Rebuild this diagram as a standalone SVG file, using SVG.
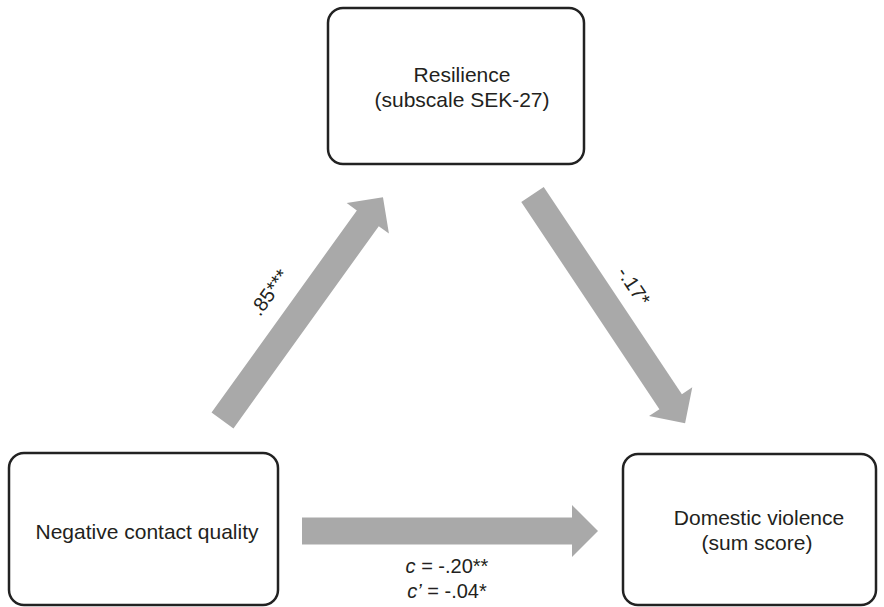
<svg xmlns="http://www.w3.org/2000/svg" width="884" height="607" viewBox="0 0 884 607">
<style>
.box{fill:#fff;stroke:#222;stroke-width:2.5}
.nt{font-family:"Liberation Sans",Arial,sans-serif;font-size:21px;fill:#231f20;text-anchor:middle}
.lb{font-family:"Liberation Sans",Arial,sans-serif;font-size:20px;fill:#231f20;text-anchor:middle}
.arr{fill:#a9a9a9}
</style>
<rect width="884" height="607" fill="#fff"/>
<g id="connectors">
<polygon class="arr" transform="translate(222.5,420.5) rotate(-54.3)" points="0,-13.5 249,-13.5 249,-26 275,0 249,26 249,13.5 0,13.5"/>
<polygon class="arr" transform="translate(532.5,194.5) rotate(56.3)" points="0,-13.5 249,-13.5 249,-26 275,0 249,26 249,13.5 0,13.5"/>
<polygon class="arr" transform="translate(302,531)" points="0,-13.5 270,-13.5 270,-26 296,0 270,26 270,13.5 0,13.5"/>
<text class="lb" transform="translate(275,296.5) rotate(-54.3)">.85***</text>
<text class="lb" transform="translate(628,290) rotate(56.3)">-.17*</text>
<text class="lb" x="447" y="573"><tspan font-style="italic">c</tspan> = -.20**</text>
<text class="lb" x="447" y="598"><tspan font-style="italic">c’</tspan> = -.04*</text>
</g>
<g id="resilience">
<rect class="box" x="328" y="8" width="256" height="156" rx="15"/>
<text class="nt" x="462" y="82">Resilience</text>
<text class="nt" x="462" y="107">(subscale SEK-27)</text>
</g>
<g id="negative-contact">
<rect class="box" x="9" y="453" width="269" height="152" rx="15"/>
<text class="nt" x="147" y="539">Negative contact quality</text>
</g>
<g id="domestic-violence">
<rect class="box" x="623" y="454" width="253" height="151" rx="15"/>
<text class="nt" x="759" y="525">Domestic violence</text>
<text class="nt" x="757" y="550">(sum score)</text>
</g>
</svg>
